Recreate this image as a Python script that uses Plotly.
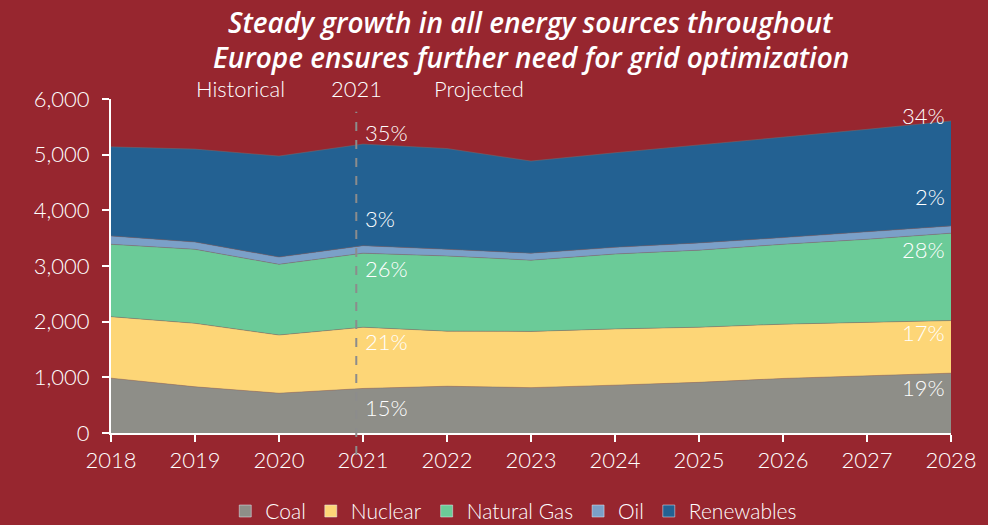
import plotly.graph_objects as go

# Energy mix in Europe (TWh), historical to 2021 and projected after
years = [2018, 2019, 2020, 2021, 2022, 2023, 2024, 2025, 2026, 2027, 2028]
coal = [985, 830, 715, 800, 840, 815, 860, 910, 980, 1030, 1075]
nuclear = [1105, 1140, 1045, 1100, 990, 1010, 1010, 990, 975, 960, 945]
natural_gas = [1300, 1330, 1270, 1330, 1350, 1280, 1345, 1385, 1435, 1490, 1570]
oil = [150, 130, 130, 135, 120, 125, 120, 130, 120, 135, 130]
renewables = [1600, 1670, 1815, 1825, 1810, 1655, 1700, 1760, 1800, 1840, 1885]

series_names = ["Coal", "Nuclear", "Natural Gas", "Oil", "Renewables"]
series_values = [coal, nuclear, natural_gas, oil, renewables]
colors = ["#8e8e88", "#fdd677", "#6bcb98", "#7ba0c8", "#236192"]

BG = "#97262f"
FONT = "Lato"
TITLE_FONT = "Open Sans"
TXT = dict(family=FONT, size=22, color="white", weight=300)

fig = go.Figure()
for name, vals, col in zip(series_names, series_values, colors):
    fig.add_trace(go.Scatter(
        x=years, y=vals, name=name, mode="lines", stackgroup="one",
        fillcolor=col, line=dict(color="rgba(120,110,110,0.8)", width=0.6),
        showlegend=False,
    ))
# square legend keys
for name, col in zip(series_names, colors):
    fig.add_trace(go.Bar(x=[None], y=[None], name=name, marker_color=col,
                         showlegend=True, hoverinfo="skip"))

totals = [sum(v) for v in zip(*series_values)]


def share(idx, year):
    i = years.index(year)
    return f"{round(100 * series_values[idx][i] / totals[i])}%"


# share labels: (series index, y position) for the 2021 and 2028 columns
left_labels = [(4, 5390), (3, 3860), (2, 2960), (1, 1635), (0, 450)]
right_labels = [(4, 5710), (3, 4240), (2, 3290), (1, 1810), (0, 810)]
for idx, ypos in left_labels:
    fig.add_annotation(x=2021, y=ypos, text=share(idx, 2021), showarrow=False,
                       xanchor="left", yanchor="middle", font=TXT)
for idx, ypos in right_labels:
    fig.add_annotation(x=2028, y=ypos, text=share(idx, 2028), showarrow=False,
                       xanchor="right", xshift=-4, yanchor="middle", font=TXT)

# historical / projected split
fig.add_shape(type="line", x0=2020.92, x1=2020.92, xref="x", yref="paper",
              y0=-0.066, y1=0.962, line=dict(color="#8c8c8c", width=2, dash="dash"))
for txt, xpos in [("Historical", 2019.54), ("2021", 2020.92), ("Projected", 2022.38)]:
    fig.add_annotation(x=xpos, y=1.03, xref="x", yref="paper", text=txt,
                       showarrow=False, xanchor="center", yanchor="middle", font=TXT)

# two-line headline
for line, ypos in [("Steady growth in all energy sources throughout", 1.2305),
                   ("Europe ensures further need for grid optimization", 1.1257)]:
    fig.add_annotation(x=0.5, y=ypos, xref="paper", yref="paper", text=line,
                       showarrow=False, xanchor="center", yanchor="middle",
                       font=dict(family=TITLE_FONT, size=28, color="white",
                                 weight=600, style="italic"))

fig.update_layout(
    width=988, height=525,
    paper_bgcolor=BG, plot_bgcolor=BG,
    margin=dict(l=111, r=37, t=99, b=92, autoexpand=False),
    showlegend=True,
    legend=dict(orientation="h", xref="container", x=0.52, xanchor="center",
                yref="container", y=0.026, yanchor="middle",
                font=dict(family=FONT, size=21, color="white", weight=300),
                bgcolor="rgba(0,0,0,0)", itemwidth=30, traceorder="normal",
                tracegroupgap=0),
    xaxis=dict(range=[2018, 2028], tickvals=years, ticktext=[str(y) for y in years],
               showgrid=False, zeroline=False, showline=True, linecolor="white",
               linewidth=2, ticks="outside", tickcolor="white", ticklen=7, tickwidth=2,
               tickfont=TXT),
    yaxis=dict(range=[0, 6000], tickvals=[0, 1000, 2000, 3000, 4000, 5000, 6000],
               tickformat=",d", showgrid=False, zeroline=False, showline=True,
               linecolor="white", linewidth=2, ticks="outside", tickcolor="white",
               ticklen=7, tickwidth=2, ticklabelstandoff=8, tickfont=TXT),
)

fig.write_html("out.html")
